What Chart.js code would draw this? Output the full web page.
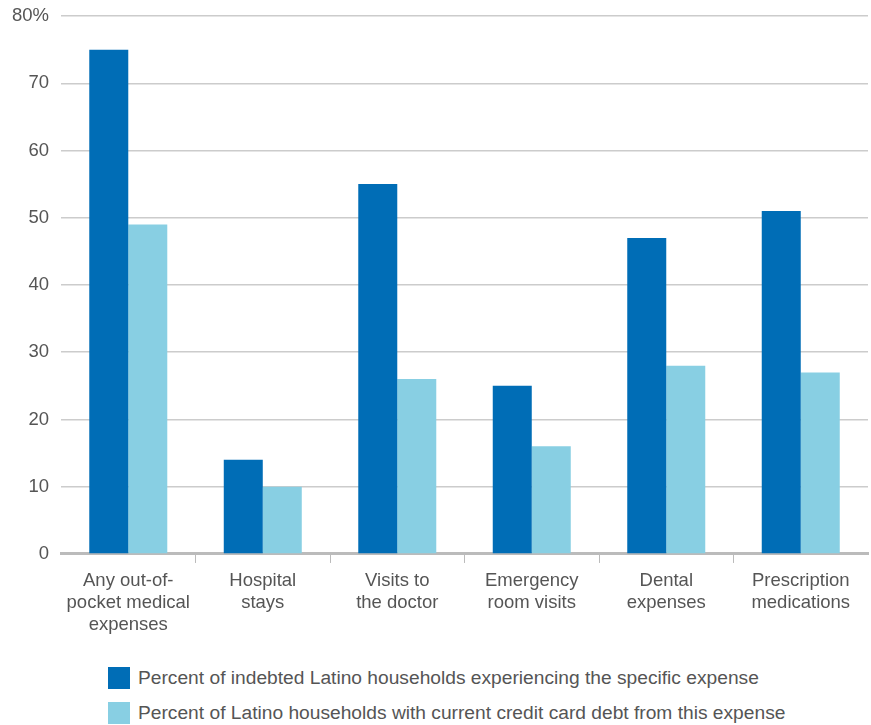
<!DOCTYPE html>
<html>
<head>
<meta charset="utf-8">
<script src="https://cdn.jsdelivr.net/npm/chart.js@4/dist/chart.umd.min.js"></script>
<style>
  body { margin: 0; background: #fff; font-family: "Liberation Sans", Arial, sans-serif; overflow: hidden; }
  #wrap { position: relative; top: -7px; width: 871px; height: 650px; }
  #legend { position: absolute; left: 108px; top: 660px; }
  .item { display: flex; align-items: center; height: 35px; font-size: 19.2px; color: #555; }
  .swatch { width: 22px; height: 22px; margin-right: 8px; }
</style>
</head>
<body>
<div id="wrap"><canvas id="c"></canvas></div>
<div id="legend"></div>
<script>
const categories = [
    ['Any out-of-', 'pocket medical', 'expenses'],
    ['Hospital', 'stays'],
    ['Visits to', 'the doctor'],
    ['Emergency', 'room visits'],
    ['Dental', 'expenses'],
    ['Prescription', 'medications']
];
const experiencing = [75, 14, 55, 25, 47, 51];
const creditCardDebt = [49, 10, 26, 16, 28, 27];
const seriesNames = [
    'Percent of indebted Latino households experiencing the specific expense',
    'Percent of Latino households with current credit card debt from this expense'
];
const colours = ['#006db6', '#88cfe3'];

const textColour = '#555';
const font = {family: '"Liberation Sans", Arial, sans-serif', size: 18.5, lineHeight: 1.19};

const chart = new Chart(document.getElementById('c'), {
    type: 'bar',
    data: {
        labels: categories,
        datasets: [
            {label: seriesNames[0], data: experiencing, backgroundColor: colours[0]},
            {label: seriesNames[1], data: creditCardDebt, backgroundColor: colours[1]}
        ]
    },
    options: {
        responsive: true,
        maintainAspectRatio: false,
        animation: false,
        layout: {padding: {top: 0, right: 3, left: 0, bottom: 0}},
        datasets: {bar: {barPercentage: 1.0, categoryPercentage: 0.58}},
        plugins: {legend: {display: false}, tooltip: {enabled: false}},
        scales: {
            x: {
                border: {color: '#bbb', width: 3},
                grid: {
                    offset: true,
                    drawOnChartArea: false,
                    tickLength: 9,
                    lineWidth: 1,
                    // tick marks only between the groups
                    color: ctx => (ctx.type === 'tick' && ctx.index > 0) ? '#bbb' : 'rgba(0,0,0,0)'
                },
                ticks: {color: textColour, font: font, padding: 7, maxRotation: 0}
            },
            y: {
                min: 0,
                max: 80,
                border: {display: false},
                grid: {color: '#ccc', lineWidth: 1.5, drawTicks: false},
                ticks: {
                    stepSize: 10,
                    color: textColour,
                    font: font,
                    padding: 12,
                    callback: v => v === 80 ? '80%' : v
                }
            }
        }
    }
});

// legend list under the chart
const legend = document.getElementById('legend');
chart.data.datasets.forEach(ds => {
    const item = document.createElement('div');
    item.className = 'item';
    item.innerHTML = `<div class="swatch" style="background:${ds.backgroundColor}"></div><span>${ds.label}</span>`;
    legend.appendChild(item);
});
</script>
</body>
</html>
